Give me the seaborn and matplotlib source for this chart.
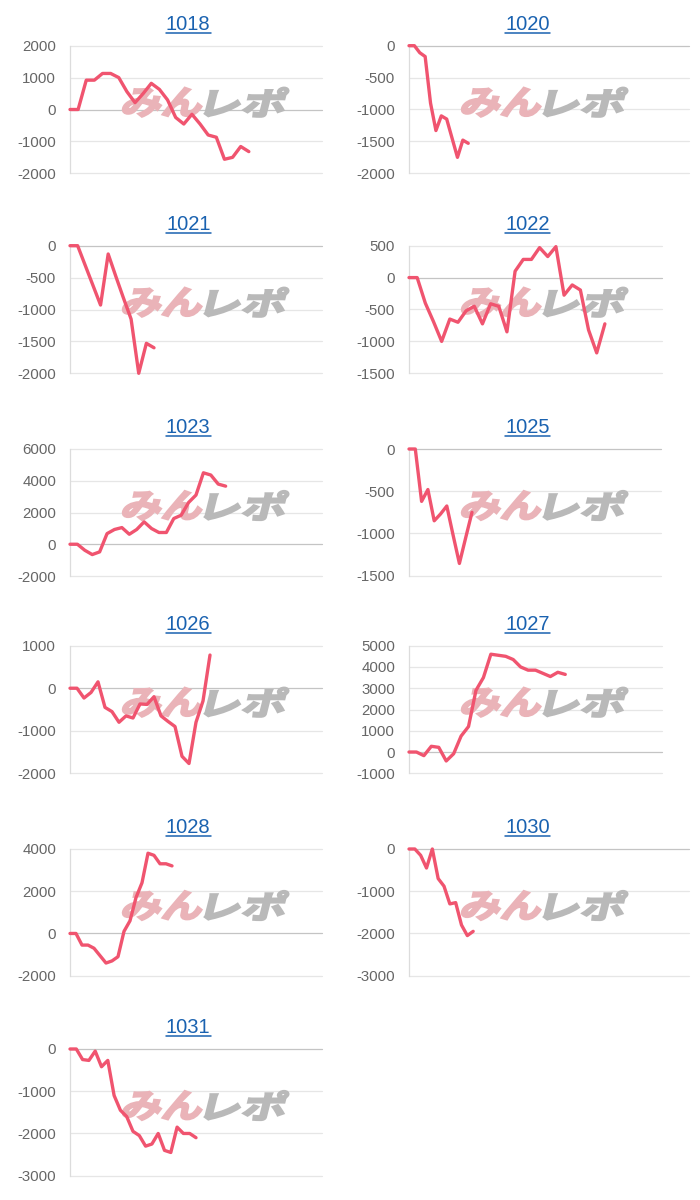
import numpy as np
import matplotlib
matplotlib.use("Agg")
import matplotlib.pyplot as plt
import seaborn as sns
from matplotlib.textpath import TextPath
from matplotlib.font_manager import FontProperties
from matplotlib.patches import PathPatch
from matplotlib.transforms import Affine2D
from matplotlib.lines import Line2D

# --- datos (saldo acumulado por máquina) ---
panel_ids = ["1018", "1020", "1021", "1022", "1023", "1025",
             "1026", "1027", "1028", "1030", "1031"]

s1018 = [0, 0, 920, 920, 1130, 1130, 1000, 560, 215, 500, 820, 630, 300,
         -250, -455, -150, -455, -800, -870, -1560, -1500, -1160, -1320]
s1020 = [0, 0, -110, -170, -900, -1330, -1100, -1150, -1450, -1750, -1480, -1530]
s1021 = [0, 0, -310, -620, -930, -130, -480, -820, -1150, -2000, -1530, -1600]
s1022 = [0, 0, -400, -690, -1000, -650, -700, -520, -450, -725, -410, -450,
         -850, 100, 285, 285, 470, 330, 485, -275, -115, -195, -820, -1180, -725]
s1023 = [0, 0, -380, -650, -480, 670, 930, 1050, 630, 930, 1410, 990, 740,
         740, 1620, 1830, 2630, 3100, 4500, 4360, 3790, 3660]
s1025 = [0, 0, -620, -480, -850, -770, -675, -1020, -1355, -1050, -750]
s1026 = [0, 0, -230, -100, 150, -450, -550, -800, -650, -700, -370, -380,
         -200, -650, -780, -900, -1600, -1770, -800, -300, 780]
s1027 = [0, 0, -170, 270, 220, -420, -80, 750, 1200, 2900, 3500, 4600, 4550,
         4500, 4350, 4000, 3850, 3850, 3700, 3550, 3750, 3650]
s1028 = [0, 0, -550, -550, -700, -1050, -1400, -1300, -1100, 100, 600, 1700,
         2400, 3800, 3700, 3300, 3300, 3200]
s1030 = [0, 0, -150, -450, 0, -700, -880, -1300, -1270, -1800, -2050, -1950]
s1031 = [0, 0, -250, -270, -50, -420, -270, -1100, -1450, -1600, -1950, -2050,
         -2300, -2250, -2000, -2400, -2450, -1850, -2000, -2000, -2100]

series = {"1018": s1018, "1020": s1020, "1021": s1021, "1022": s1022,
          "1023": s1023, "1025": s1025, "1026": s1026, "1027": s1027,
          "1028": s1028, "1030": s1030, "1031": s1031}

y_ticks = {
    "1018": [-2000, -1000, 0, 1000, 2000],
    "1020": [-2000, -1500, -1000, -500, 0],
    "1021": [-2000, -1500, -1000, -500, 0],
    "1022": [-1500, -1000, -500, 0, 500],
    "1023": [-2000, 0, 2000, 4000, 6000],
    "1025": [-1500, -1000, -500, 0],
    "1026": [-2000, -1000, 0, 1000],
    "1027": [-1000, 0, 1000, 2000, 3000, 4000, 5000],
    "1028": [-2000, 0, 2000, 4000],
    "1030": [-3000, -2000, -1000, 0],
    "1031": [-3000, -2000, -1000, 0],
}

# --- disposición en píxeles: izquierda, arriba, derecha, abajo, nº de huecos en x ---
W, H = 700, 1200
boxes = {
    "1018": (70, 45.7, 322, 173.3, 31),
    "1020": (409, 45.7, 689, 173.3, 52),
    "1021": (70, 245.7, 322, 373.3, 33),
    "1022": (409, 245.7, 662, 373.3, 31),
    "1023": (70, 449, 322, 576, 34),
    "1025": (409, 449, 661, 575.7, 40),
    "1026": (70, 645.7, 322, 773.3, 36),
    "1027": (409, 645.7, 662, 773.3, 34),
    "1028": (70, 849, 322, 975.7, 42),
    "1030": (409, 849, 689, 975.7, 48),
    "1031": (70, 1049, 322, 1175.7, 40),
}
title_base = {"1018": 30, "1020": 30, "1021": 230, "1022": 230,
              "1023": 433.3, "1025": 433.3, "1026": 630, "1027": 630,
              "1028": 833.3, "1030": 833.3, "1031": 1033.3}

LINE = "#f0546f"
GRID = "#e6e6e6"
ZERO = "#c4c4c4"
TICK_TXT = "#666666"
TITLE = "#1a62b0"

sns.set_theme(style="white")
plt.rcParams["font.family"] = ["Liberation Sans", "DejaVu Sans"]

fig = plt.figure(figsize=(7, 12), dpi=100)
fig.patch.set_facecolor("white")

px = Affine2D().scale(1.0 / W, 1.0 / H) + fig.transFigure
logo_fp = FontProperties(family="Noto Sans CJK JP", weight="bold")


def logo_part(ax, text, x0, y_top, w, h, color):
    # marca de agua "みんレポ" en cursiva (hecha a mano con TextPath)
    tp = TextPath((0, 0), text, size=1, prop=logo_fp)
    bb = tp.get_extents()
    tr = (Affine2D().translate(-bb.x0, -bb.y0)
          .scale(w / bb.width, h / bb.height)
          .skew_deg(14, 0)
          .translate(x0, H - y_top - h))
    patch = PathPatch(tr.transform_path(tp), facecolor=color, edgecolor=color,
                      linewidth=1.6, transform=px, zorder=1.5, clip_on=False)
    ax.add_patch(patch)


titles = []
for pid in panel_ids:
    l, t, r, b, n = boxes[pid]
    ax = fig.add_axes([l / W, 1 - b / H, (r - l) / W, (b - t) / H])
    vals = series[pid]
    x = np.arange(len(vals))
    sns.lineplot(x=x, y=vals, ax=ax, color=LINE, linewidth=2.4, zorder=3)
    for ln in ax.lines:
        ln.set_clip_on(False)
        ln.set_solid_joinstyle("round")
        ln.set_solid_capstyle("round")

    ticks = y_ticks[pid]
    ax.set_xlim(0, n)
    ax.set_ylim(ticks[0], ticks[-1])
    ax.set_yticks(ticks)
    ax.set_yticklabels([str(v) for v in ticks])
    ax.set_xticks([])
    ax.set_xlabel("")
    ax.set_ylabel("")

    for yv in ticks:
        ax.axhline(yv, color=ZERO if yv == 0 else GRID, lw=0.9, zorder=1,
                   clip_on=False)
    for sp in ["top", "right", "bottom"]:
        ax.spines[sp].set_visible(False)
    ax.spines["left"].set_color("#dcdcdc")
    ax.spines["left"].set_linewidth(0.9)
    ax.tick_params(axis="y", length=8.5, width=0.9, color=GRID, pad=1.5,
                   labelsize=10.8, labelcolor=TICK_TXT)
    ax.set_facecolor("white")

    # marca de agua
    logo_part(ax, "みん", l + 51, t + 42, 78, 29, "#eab3b8")
    logo_part(ax, "レポ", l + 134, t + 42, 78, 29, "#b9b9b9")

    cx = 188.3 if l < 200 else 527.7
    tt = fig.text(cx / W, 1 - title_base[pid] / H, pid, ha="center",
                  va="baseline", fontsize=14.5, color=TITLE)
    titles.append((tt, pid))

# subrayado de los títulos (como un enlace)
fig.canvas.draw()
renderer = fig.canvas.get_renderer()
for tt, pid in titles:
    bb = tt.get_window_extent(renderer)
    yb = title_base[pid] + 2.5
    fig.add_artist(Line2D([bb.x0 / W, bb.x1 / W], [1 - yb / H, 1 - yb / H],
                          color=TITLE, lw=1.1, transform=fig.transFigure))

fig.savefig("out.png", dpi=100, facecolor="white")
